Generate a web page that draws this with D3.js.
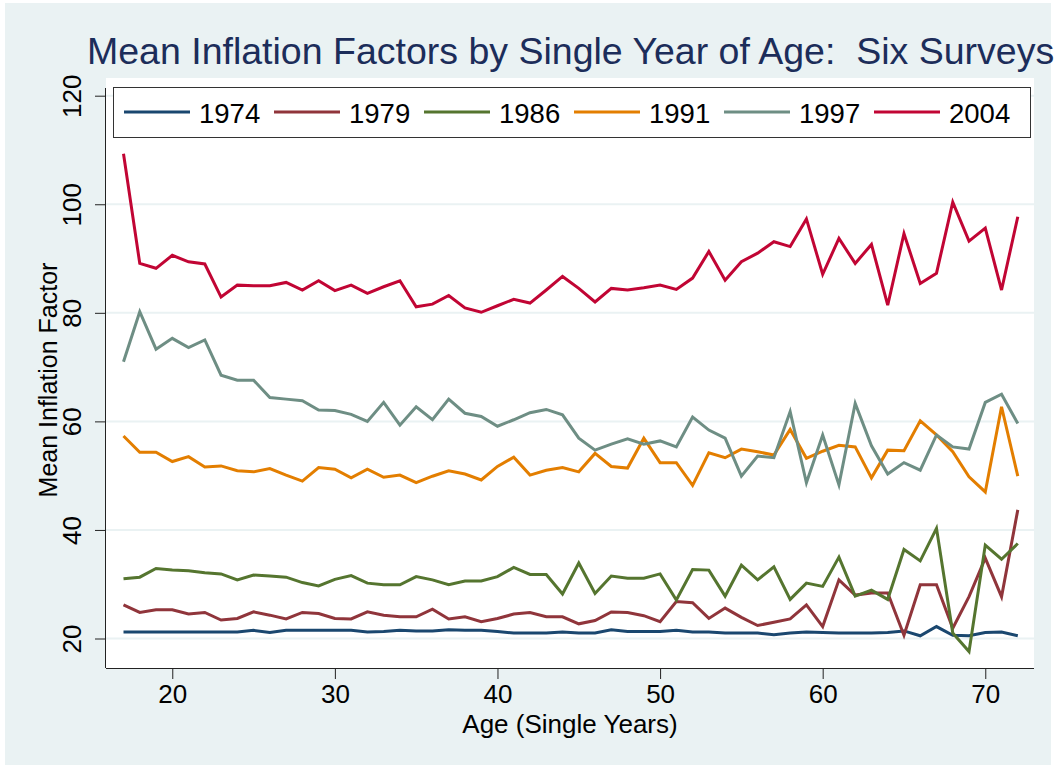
<!DOCTYPE html>
<html>
<head>
<meta charset="utf-8">
<script src="https://cdn.jsdelivr.net/npm/d3@7"></script>
<style>
    body { margin: 0; background: #fff; }
    text { font-family: "Liberation Sans", Arial, sans-serif; }
</style>
</head>
<body>
<div id="chart"></div>
<script>
var ages = d3.range(17, 73);

var years = ["1974", "1979", "1986", "1991", "1997", "2004"];

var v1974 = [21.2, 21.2, 21.2, 21.2, 21.2, 21.2, 21.2, 21.2, 21.5, 21.1, 21.5, 21.5, 21.5, 21.5, 21.5, 21.2, 21.3, 21.5, 21.4,
    21.4, 21.6, 21.5, 21.5, 21.3, 21.0, 21.0, 21.0, 21.2, 21.0, 21.0, 21.6, 21.3, 21.3, 21.3, 21.5, 21.2, 21.2,
    21.0, 21.0, 21.0, 20.7, 21.0, 21.2, 21.1, 21.0, 21.0, 21.0, 21.1, 21.4, 20.5, 22.2, 20.6, 20.5, 21.1, 21.2, 20.5];

var v1979 = [26.2, 24.8, 25.3, 25.3, 24.5, 24.8, 23.4, 23.7, 24.9, 24.3, 23.6, 24.8, 24.6, 23.7, 23.6, 24.9, 24.3, 24.0, 24.0,
    25.4, 23.6, 24.0, 23.1, 23.7, 24.5, 24.8, 24.0, 24.0, 22.7, 23.3, 24.9, 24.8, 24.2, 23.1, 26.8, 26.6, 23.7,
    25.6, 23.9, 22.4, 23.0, 23.6, 26.2, 22.2, 30.8, 28.0, 28.4, 28.4, 20.6, 29.9, 29.9, 21.9, 27.7, 34.8, 27.7, 43.7];

var v1986 = [31.0, 31.3, 32.9, 32.6, 32.5, 32.1, 31.9, 30.8, 31.7, 31.5, 31.3, 30.3, 29.7, 30.9, 31.6, 30.2, 29.9, 29.9, 31.4,
    30.8, 29.9, 30.6, 30.6, 31.4, 33.1, 31.8, 31.8, 28.2, 33.9, 28.3, 31.5, 31.1, 31.1, 31.9, 27.1, 32.7, 32.6,
    27.8, 33.5, 30.8, 33.2, 27.2, 30.2, 29.6, 35.0, 27.8, 28.9, 27.2, 36.4, 34.3, 40.3, 21.0, 17.6, 37.2, 34.6, 37.5];

var v1991 = [57.3, 54.3, 54.3, 52.6, 53.5, 51.6, 51.8, 50.9, 50.7, 51.3, 50.1, 49.0, 51.5, 51.2, 49.6, 51.2, 49.7, 50.1, 48.7,
    49.9, 50.9, 50.3, 49.2, 51.7, 53.4, 50.1, 51.0, 51.5, 50.7, 54.1, 51.7, 51.4, 56.9, 52.4, 52.4, 48.2, 54.2,
    53.3, 54.9, 54.4, 53.8, 58.5, 53.2, 54.5, 55.6, 55.3, 49.6, 54.7, 54.6, 60.1, 57.5, 54.4, 49.8, 47.0, 62.7, 49.9];

var v1997 = [71.0, 80.2, 73.3, 75.3, 73.6, 75.0, 68.5, 67.6, 67.6, 64.4, 64.1, 63.8, 62.1, 62.0, 61.3, 60.0, 63.5, 59.3, 62.7,
    60.3, 64.1, 61.5, 60.9, 59.1, 60.3, 61.6, 62.2, 61.2, 56.9, 54.7, 55.8, 56.8, 55.8, 56.4, 55.3, 60.8, 58.4,
    56.9, 49.9, 53.6, 53.3, 61.8, 48.7, 57.5, 48.3, 63.3, 55.5, 50.3, 52.4, 51.0, 57.5, 55.3, 54.9, 63.5, 65.0, 59.6];

var v2004 = [109.3, 89.1, 88.2, 90.6, 89.4, 89.0, 82.9, 85.1, 85.0, 85.0, 85.6, 84.2, 85.9, 84.1, 85.1, 83.6, 84.8, 85.9, 81.1,
    81.6, 83.2, 80.9, 80.1, 81.3, 82.5, 81.8, 84.2, 86.7, 84.5, 82.0, 84.5, 84.2, 84.6, 85.1, 84.3, 86.4, 91.3,
    86.0, 89.4, 91.0, 93.1, 92.2, 97.3, 87.1, 93.7, 89.1, 92.6, 81.4, 94.6, 85.4, 87.3, 100.4, 93.2, 95.6, 84.2, 97.7];

var xTicks = [20, 30, 40, 50, 60, 70];
var yTicks = [20, 40, 60, 80, 100, 120];

var seriesValues = [v1974, v1979, v1986, v1991, v1997, v2004];
var seriesColors = ["#1a476f", "#90353b", "#55752f", "#e37e00", "#6e8e84", "#c10534"];

(function () {
    var width = 1057;
    var height = 770;

    var svg = d3.select("#chart").append("svg")
        .attr("width", width)
        .attr("height", height);

    // outer graph region
    svg.append("rect")
        .attr("x", 5).attr("y", 3)
        .attr("width", 1046).attr("height", 762)
        .attr("fill", "#eaf2f3");

    var plotLeft = 106, plotRight = 1034, plotTop = 78, plotBottom = 668;

    svg.append("rect")
        .attr("x", plotLeft).attr("y", plotTop)
        .attr("width", plotRight - plotLeft).attr("height", plotBottom - plotTop)
        .attr("fill", "#fff");

    var x = d3.scaleLinear().domain([17, 72]).range([123.5, 1017.8]);
    var y = d3.scaleLinear().domain([20, 120]).range([638.5, 95.7]);

    // grid
    svg.append("g").selectAll("line")
        .data(yTicks)
        .enter().append("line")
        .attr("x1", plotLeft).attr("x2", plotRight)
        .attr("y1", function (d) { return y(d); })
        .attr("y2", function (d) { return y(d); })
        .attr("stroke", "#eaf2f3")
        .attr("stroke-width", 2);

    // series
    var line = d3.line()
        .x(function (d, i) { return x(ages[i]); })
        .y(function (d) { return y(d); });

    svg.append("g").selectAll("path")
        .data(seriesValues)
        .enter().append("path")
        .attr("d", line)
        .attr("fill", "none")
        .attr("stroke", function (d, i) { return seriesColors[i]; })
        .attr("stroke-width", 3)
        .attr("stroke-linejoin", "miter");

    // axes
    var xAxis = svg.append("g")
        .attr("transform", "translate(0," + plotBottom + ")")
        .call(d3.axisBottom(x).tickValues(xTicks).tickSize(11).tickPadding(6));
    xAxis.select(".domain").attr("d", "M" + plotLeft + ",0.5H" + plotRight).attr("stroke", "#222");
    xAxis.selectAll(".tick line").attr("stroke", "#222");
    xAxis.selectAll(".tick text").attr("font-size", 26).attr("fill", "#000").attr("font-family", "Liberation Sans, Arial, sans-serif");

    var yAxis = svg.append("g")
        .attr("transform", "translate(" + plotLeft + ",0)")
        .call(d3.axisLeft(y).tickValues(yTicks).tickSize(11).tickPadding(0));
    yAxis.select(".domain").attr("d", "M-0.5,88V" + plotBottom).attr("stroke", "#222");
    yAxis.selectAll(".tick line").attr("stroke", "#222");
    yAxis.selectAll(".tick text")
        .attr("font-size", 26)
        .attr("fill", "#000")
        .attr("font-family", "Liberation Sans, Arial, sans-serif")
        .attr("text-anchor", "middle")
        .attr("x", 0).attr("dy", 0)
        .attr("transform", "translate(-25,0) rotate(-90)");

    // titles
    svg.append("text")
        .attr("x", 87).attr("y", 64)
        .attr("font-size", 37.5)
        .attr("fill", "#1c2d5a")
        .attr("xml:space", "preserve")
        .text("Mean Inflation Factors by Single Year of Age:  Six Surveys");

    svg.append("text")
        .attr("x", (plotLeft + plotRight) / 2).attr("y", 733)
        .attr("text-anchor", "middle")
        .attr("font-size", 26)
        .attr("fill", "#000")
        .text("Age (Single Years)");

    svg.append("text")
        .attr("transform", "translate(57,380) rotate(-90)")
        .attr("text-anchor", "middle")
        .attr("font-size", 25)
        .attr("fill", "#000")
        .text("Mean Inflation Factor");

    // legend
    var legend = svg.append("g");
    legend.append("rect")
        .attr("x", 113.5).attr("y", 87.5)
        .attr("width", 917).attr("height", 50)
        .attr("fill", "#fff")
        .attr("stroke", "#333")
        .attr("stroke-width", 1);

    var item = legend.selectAll(".item")
        .data(years)
        .enter().append("g")
        .attr("class", "item")
        .attr("transform", function (d, i) { return "translate(" + (124 + i * 150) + ",112)"; });

    item.append("line")
        .attr("x1", 0).attr("x2", 66)
        .attr("stroke", function (d, i) { return seriesColors[i]; })
        .attr("stroke-width", 3);

    item.append("text")
        .attr("x", 75).attr("y", 10.5)
        .attr("font-size", 27.5)
        .attr("fill", "#000")
        .text(function (d) { return d; });
}());
</script>
</body>
</html>
